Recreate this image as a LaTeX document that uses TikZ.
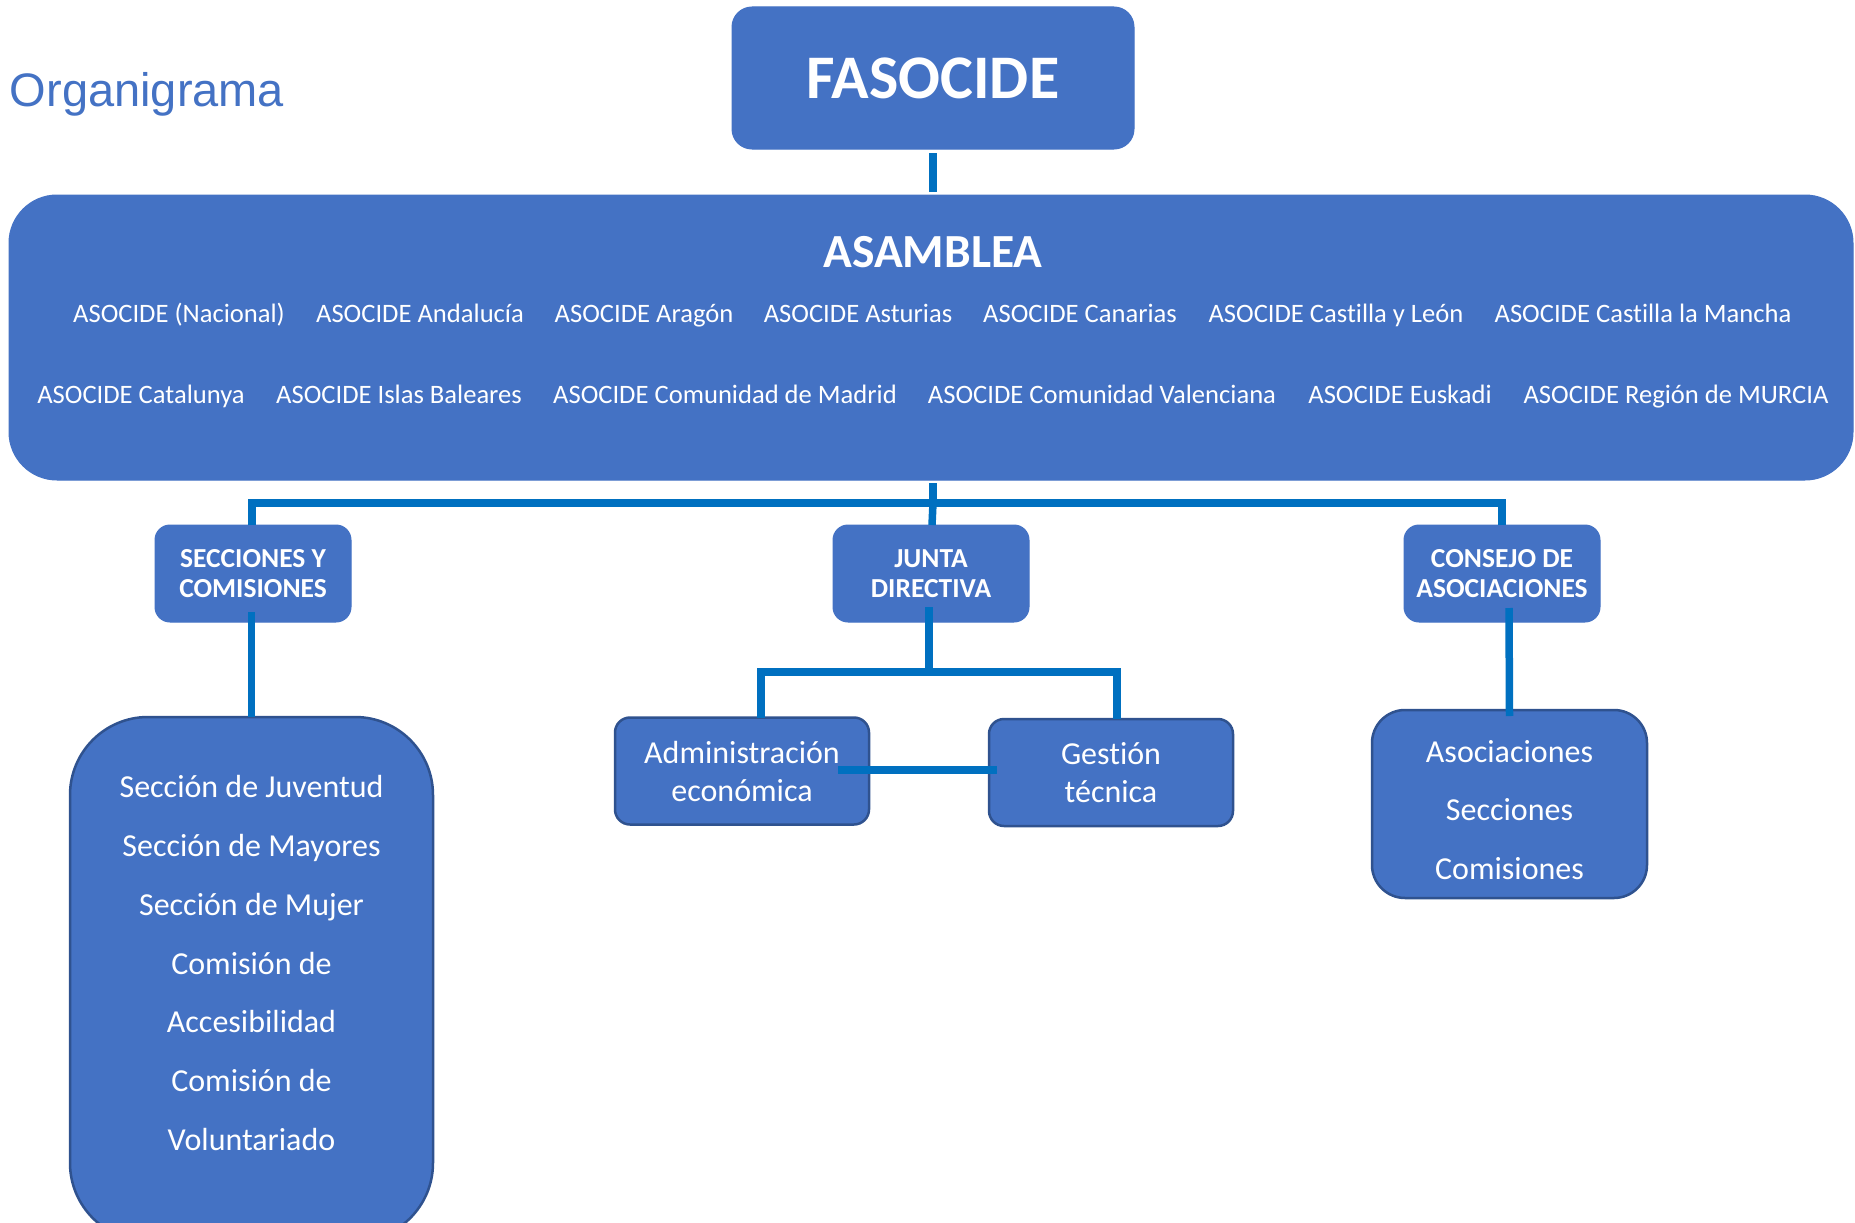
\documentclass[tikz,border=0pt]{standalone}
\usepackage{fontspec}
\setmainfont{Carlito}[Ligatures=NoCommon]
\newfontfamily\arialfont{Liberation Sans}
\definecolor{boxblue}{HTML}{4472C4}
\definecolor{boxedge}{HTML}{2F528F}
\definecolor{linkblue}{HTML}{0070C0}
\tikzset{
  box/.style={fill=boxblue, draw=boxblue, line width=1pt, inner sep=0pt, outer sep=0pt, text=white, align=center},
  subbox/.style={box, draw=boxedge, line width=2.5pt},
  link/.style={draw=linkblue, line width=7.5pt},
  txt/.style={text=white, inner sep=0pt, anchor=base},
}
\begin{document}
\begin{tikzpicture}[x=1pt,y=-1pt]
\useasboundingbox (0,0) rectangle (1855,1223);
\clip (0,0) rectangle (1855,1223);
\node[text=boxblue, inner sep=0pt, anchor=base, font=\arialfont\fontsize{47}{56}\selectfont] (title) at (147,106) {Organigrama};

% boxes
\node[box, rounded corners=20pt, minimum width=402pt, minimum height=142pt, font=\bfseries\fontsize{62}{70}\selectfont] (fasocide) at (933,78) {FASOCIDE};
\node[box, rounded corners=48pt, minimum width=1844pt, minimum height=285pt] (asamblea) at (931,337.5) {};
\node[txt, font=\bfseries\fontsize{47.5}{56}\selectfont] (asambleatxt) at (933,267) {ASAMBLEA};
\foreach \x/\t [count=\i] in {179/ASOCIDE (Nacional), 420/ASOCIDE Andalucía, 644/ASOCIDE Aragón, 858/ASOCIDE Asturias, 1080/ASOCIDE Canarias, 1336/ASOCIDE Castilla y León, 1643/ASOCIDE Castilla la Mancha}
{
    \node[txt, font=\fontsize{26.6}{32}\selectfont] (rowa\i) at (\x,322) {\t};
}
\foreach \x/\t [count=\i] in {141/ASOCIDE Catalunya, 399/ASOCIDE Islas Baleares, 725/ASOCIDE Comunidad de Madrid, 1102/ASOCIDE Comunidad Valenciana, 1400/ASOCIDE Euskadi, 1676/ASOCIDE Región de MURCIA}
{
    \node[txt, font=\fontsize{26.6}{32}\selectfont] (rowb\i) at (\x,403) {\t};
}

\foreach \n/\x/\t in {secc/253/SECCIONES Y\\COMISIONES, junta/931/JUNTA\\DIRECTIVA, consejo/1502/CONSEJO DE\\ASOCIACIONES}
{
    \node[box, rounded corners=15pt, minimum width=196pt, minimum height=97pt, font=\bfseries\fontsize{27.5}{30}\selectfont] (\n) at (\x,573.5) {\t};
}

\node[subbox, rounded corners=78pt, minimum width=363pt, minimum height=524pt] (secciones) at (251.5,979) {};
\node[text=white, inner sep=0pt, align=center, font=\fontsize{32}{58.8}\selectfont] (secclist) at (251.5,963) {Sección de Juventud\\Sección de Mayores\\Sección de Mujer\\Comisión de\\Accesibilidad\\Comisión de\\Voluntariado};

\node[subbox, rounded corners=15pt, minimum width=254pt, minimum height=107pt, font=\fontsize{32}{38}\selectfont] (admin) at (742,771) {Administración\\económica};
\node[subbox, rounded corners=15pt, minimum width=244pt, minimum height=107pt, font=\fontsize{32}{38}\selectfont] (gestion) at (1111,772.5) {Gestión\\técnica};

\node[subbox, rounded corners=33pt, minimum width=275pt, minimum height=188pt] (asoc) at (1509.5,804) {};
\node[text=white, inner sep=0pt, align=center, font=\fontsize{32}{58.5}\selectfont] (asoclist) at (1509.5,810) {Asociaciones\\Secciones\\Comisiones};

% connectors
\coordinate (bar) at (933,503);
\coordinate (jbar) at (929,672);
\draw[link] ([yshift=-4pt]fasocide.south) -- ([yshift=3pt]fasocide.south |- asamblea.north);
\draw[link] ([yshift=-3pt]asamblea.south -| bar) -- (bar);
\draw[link] ([xshift=-1pt]secc.north) |- (bar) -| (consejo.north);
\draw[link] (bar) -- ([xshift=1pt]junta.north);
\draw[link] ([xshift=-1.5pt,yshift=10pt]secc.south) -- (secciones.north);
\draw[link] ([xshift=-2pt,yshift=15pt]junta.south) -- (jbar);
\draw[link] ([xshift=19pt]admin.north) |- (jbar) -| ([xshift=6pt]gestion.north);
\draw[link, line width=8pt] ([xshift=-31pt,yshift=1pt]admin.east) -- ([xshift=8pt,yshift=1pt]admin.east -| gestion.west);
\draw[link] ([xshift=7pt,yshift=14pt]consejo.south) -- ([yshift=-6pt]asoc.north);
\end{tikzpicture}
\end{document}
